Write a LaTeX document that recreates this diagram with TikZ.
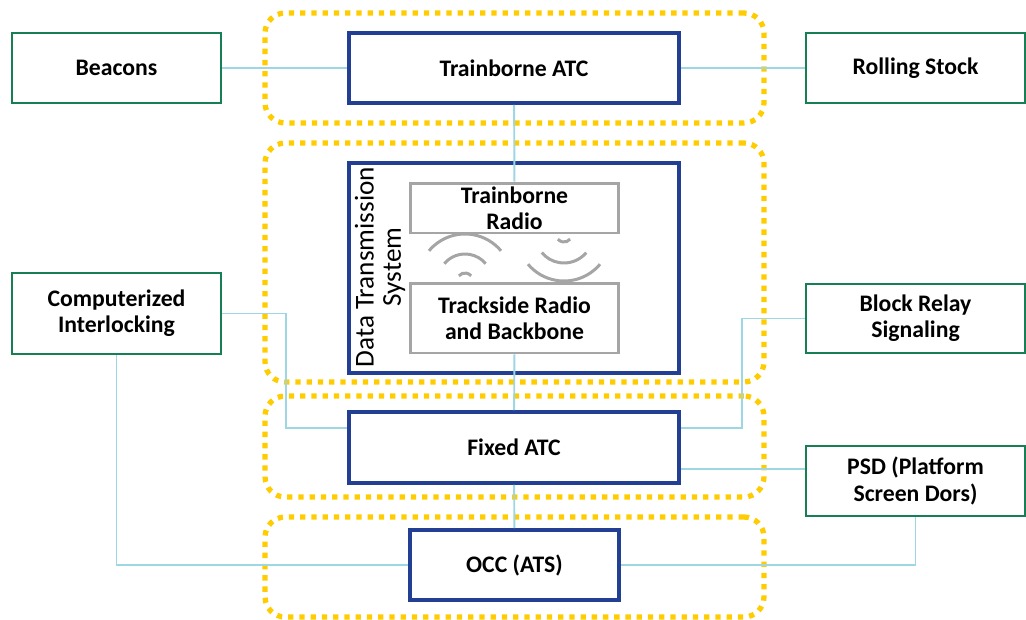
\documentclass[tikz,border=0pt]{standalone}
\usepackage{fontspec}
\setmainfont{Carlito}
\usepackage{tikz}
\usetikzlibrary{positioning,calc}

\definecolor{atcblue}{RGB}{35,63,148}
\definecolor{extgreen}{RGB}{22,128,84}
\definecolor{linkblue}{RGB}{158,214,227}
\definecolor{zoneyellow}{RGB}{255,204,0}
\definecolor{radiogray}{RGB}{165,165,165}

\begin{document}
\begin{tikzpicture}[
  x=0.02cm, y=-0.02cm,
  txt/.style={font=\fontsize{13.5}{15}\selectfont\bfseries, align=center, inner sep=0pt},
  extbox/.style={txt, draw=extgreen, line width=1.5pt, fill=white},
  atcbox/.style={txt, draw=atcblue, line width=2.1pt, fill=white},
  radiobox/.style={txt, draw=radiogray, line width=1.7pt, fill=white},
  zone/.style={draw=zoneyellow, line width=3pt, dash pattern=on 3pt off 3.4pt,
    rounded corners=0.4cm, inner sep=0pt},
  link/.style={draw=linkblue, line width=1.1pt},
  wave/.style={draw=radiogray, line width=1.7pt}
]
  \useasboundingbox (0,0) rectangle (1026,619);

  % Zones
  \node[zone, minimum width=9.98cm, minimum height=2.2cm] (zone1) at (514.5,68) {};
  \node[zone, minimum width=9.98cm, minimum height=4.78cm] (zone2) at (514.5,262.5) {};
  \node[zone, minimum width=9.98cm, minimum height=2.02cm] (zone3) at (514.5,446.5) {};
  \node[zone, minimum width=9.98cm, minimum height=2.0cm] (zone4) at (514.5,567) {};

  % Blocks
  \node[extbox, minimum width=4.18cm, minimum height=1.4cm] (beacons) at (116.5,68) {Beacons};
  \node[atcbox, minimum width=6.6cm, minimum height=1.4cm] (tatc) at (514,68) {Trainborne ATC};
  \node[extbox, minimum width=4.38cm, minimum height=1.4cm] (rolling) at (915.5,68) {Rolling Stock};

  \node[atcbox, minimum width=6.6cm, minimum height=4.2cm] (dts) at (514,268) {};
  \node[font=\fontsize{15.5}{15.5}\selectfont, align=center, rotate=90, inner sep=0pt]
    (dtslabel) at (380,267) {Data Transmission\\System};
  \node[radiobox, minimum width=4.18cm, minimum height=1.0cm] (tradio) at (514.5,208) {Trainborne\\Radio};
  \node[radiobox, minimum width=4.18cm, minimum height=1.4cm] (trackside) at (514.5,318) {Trackside Radio\\and Backbone};

  \node[extbox, minimum width=4.18cm, minimum height=1.62cm] (ci) at (116.5,313.5) {Computerized\\Interlocking};
  \node[extbox, minimum width=4.38cm, minimum height=1.38cm] (brs) at (915.5,318.5) {Block Relay\\Signaling};
  \node[atcbox, minimum width=6.6cm, minimum height=1.42cm] (fatc) at (514,447.5) {Fixed ATC};
  \node[extbox, minimum width=4.38cm, minimum height=1.4cm] (psd) at (915.5,481) {PSD (Platform\\Screen Dors)};
  \node[atcbox, minimum width=4.18cm, minimum height=1.4cm] (occ) at (514.5,565) {OCC (ATS)};

  % Radio waves
  \foreach \r in {8,27,47}
    \draw[wave] (465,281) ++(220:\r) arc (220:320:\r);
  \foreach \r in {8,29,47}
    \draw[wave] (564,234) ++(40:\r) arc (40:140:\r);

  % Links
  \coordinate (cibend) at (286,428);
  \coordinate (brsbend) at (742,428);
  \coordinate (psdrow) at (742,469);
  \draw[link] (beacons) -- (tatc);
  \draw[link] (tatc) -- (rolling);
  \draw[link] (tatc) -- (tradio);
  \draw[link] (trackside) -- (fatc);
  \draw[link] (fatc) -- (occ);
  \draw[link] (ci.east) -| (cibend) -- (cibend -| fatc.west);
  \draw[link] (brs.west) -| (brsbend) -- (brsbend -| fatc.east);
  \draw[link] (psdrow -| fatc.east) -- (psdrow -| psd.west);
  \draw[link] (ci.south) |- (occ.west);
  \draw[link] (psd.south) |- (occ.east);
\end{tikzpicture}
\end{document}
